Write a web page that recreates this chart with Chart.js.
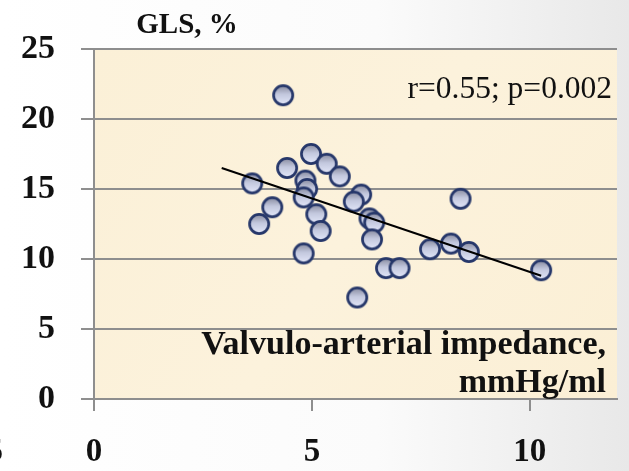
<!DOCTYPE html>
<html>
<head>
<meta charset="utf-8">
<script src="https://cdn.jsdelivr.net/npm/chart.js@4.4.1/dist/chart.umd.min.js"></script>
<style>
  html, body { margin: 0; padding: 0; background: #fff; }
  #wrap { width: 629px; height: 471px; position: relative; }
</style>
</head>
<body>
<div id="wrap"><canvas id="c" width="629" height="471"></canvas></div>
<script>
// ---- data ----
const impedance = [4.34, 4.43, 4.98, 5.34, 5.64, 3.63, 4.85, 4.89, 4.81, 4.09, 3.79, 5.10, 5.20, 4.81,
                   6.13, 5.96, 6.32, 6.43, 6.38, 6.70, 7.01, 6.04, 7.71, 8.19, 8.60, 10.26, 8.41];
const gls       = [21.7, 16.5, 17.5, 16.8, 15.9, 15.4, 15.6, 15.0, 14.4, 13.7, 12.5, 13.2, 12.0, 10.4,
                   14.6, 14.1, 12.9, 12.6, 11.4, 9.35, 9.35, 7.25, 10.7, 11.1, 10.5, 9.2, 14.3];
const trendX = [2.93, 10.26];
const trendY = [16.5, 8.8];
const xTicks = [0, 5, 10];
const yTicks = [0, 5, 10, 15, 20, 25];
const yTitle = "GLS, %";
const xTitle = ["Valvulo-arterial impedance,", "mmHg/ml"];
const statText = "r=0.55; p=0.002";

// ---- point sprite ----
function makeMarker() {
  const r = 11, s = 24;
  const cv = document.createElement('canvas');
  cv.width = s; cv.height = s;
  const g = cv.getContext('2d');
  const grad = g.createLinearGradient(0, 2, 0, s - 2);
  grad.addColorStop(0, '#85889c');
  grad.addColorStop(0.45, '#c3c8de');
  grad.addColorStop(1, '#e4e8fa');
  g.beginPath();
  g.arc(s / 2, s / 2, r - 1.4, 0, Math.PI * 2);
  g.fillStyle = grad;
  g.fill();
  g.lineWidth = 2.7;
  g.strokeStyle = '#26376a';
  g.stroke();
  return cv;
}
const marker = makeMarker();

const serif = "'Liberation Serif', 'Times New Roman', serif";
const gridGray = '#8e8e8e';

const bgPlugin = {
  id: 'bg',
  beforeDraw(chart) {
    const { ctx, chartArea: a, width, height } = chart;
    ctx.save();
    const pg = ctx.createLinearGradient(0, 0, width, 0);
    pg.addColorStop(0, '#ffffff');
    pg.addColorStop(0.6, '#fbfbfb');
    pg.addColorStop(1, '#e8e8e8');
    ctx.fillStyle = pg;
    ctx.fillRect(0, 0, width, height);
    const bg = ctx.createLinearGradient(a.left, a.top, a.right, a.bottom);
    bg.addColorStop(0, '#fbf0d7');
    bg.addColorStop(0.5, '#fcf2dc');
    bg.addColorStop(1, '#fbefd5');
    ctx.fillStyle = bg;
    ctx.fillRect(a.left, a.top, a.right - a.left, a.bottom - a.top);
    ctx.restore();
  },
  afterDraw(chart) {
    const { ctx } = chart;
    ctx.save();
    ctx.fillStyle = '#111';
    ctx.textBaseline = 'alphabetic';
    ctx.font = "bold 29px " + serif;
    ctx.textAlign = 'center';
    ctx.fillText(yTitle, 187, 33);
    ctx.font = "31.5px " + serif;
    ctx.textAlign = 'right';
    ctx.fillText(statText, 612, 98);
    ctx.font = "bold 34px " + serif;
    ctx.fillText(xTitle[0], 606, 354);
    ctx.fillText(xTitle[1], 606, 392);
    // partially visible tick label at the left edge
    ctx.font = "bold 33px " + serif;
    ctx.textBaseline = 'middle';
    ctx.fillText("5", 3, 452);
    ctx.restore();
  }
};

new Chart(document.getElementById('c'), {
  data: {
    datasets: [
      {
        type: 'line',
        data: trendX.map((x, i) => ({ x, y: trendY[i] })),
        borderColor: '#000',
        borderWidth: 2,
        pointRadius: 0,
        fill: false,
        order: 0
      },
      {
        type: 'scatter',
        data: impedance.map((x, i) => ({ x, y: gls[i] })),
        pointStyle: marker,
        pointRadius: 11,
        order: 1
      }
    ]
  },
  options: {
    responsive: false,
    animation: false,
    layout: { padding: { top: 49, right: 3, left: 0, bottom: 0 } },
    plugins: { legend: { display: false }, tooltip: { enabled: false } },
    scales: {
      x: {
        type: 'linear',
        min: 0, max: 12,
        afterBuildTicks(s) { s.ticks = xTicks.map(v => ({ value: v })); },
        afterFit(s) { s.height = 72; },
        grid: { drawOnChartArea: false, drawTicks: true, tickLength: 12, color: gridGray, lineWidth: 2 },
        border: { display: true, color: gridGray, width: 2 },
        ticks: { color: '#111', padding: 22, maxRotation: 0, font: { family: serif, size: 33, weight: 'bold' } }
      },
      y: {
        type: 'linear',
        min: 0, max: 25,
        afterBuildTicks(s) { s.ticks = yTicks.map(v => ({ value: v })); },
        afterFit(s) { s.width = 94; },
        grid: { drawOnChartArea: true, drawTicks: true, tickLength: 13, color: gridGray, lineWidth: 2 },
        border: { display: true, color: gridGray, width: 2 },
        ticks: { color: '#111', padding: 26, font: { family: serif, size: 34, weight: 'bold' } }
      }
    }
  },
  plugins: [bgPlugin]
});
</script>
</body>
</html>
